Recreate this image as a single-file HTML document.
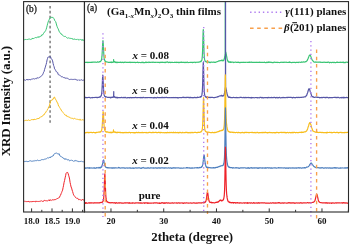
<!DOCTYPE html>
<html><head><meta charset="utf-8"><style>
html,body{margin:0;padding:0;background:#fff;}
body{width:350px;height:245px;overflow:hidden;position:relative;}
svg{position:absolute;left:0;top:0;will-change:transform;}
text{font-family:"Liberation Serif",serif;fill:#111;}
.tk{font-size:9px;font-weight:bold;}
.b{font-weight:bold;}
</style></head><body>
<svg width="350" height="245" viewBox="0 0 350 245">
<defs><clipPath id="cr"><rect x="84.6" y="1.6" width="263.8" height="210.2"/></clipPath>
<clipPath id="cl"><rect x="23.6" y="1.6" width="60.8" height="210.2"/></clipPath></defs>
<g clip-path="url(#cr)">
<path d="M84.60,62.38 85.10,62.43 85.60,62.33 86.10,62.23 86.60,62.30 87.10,62.21 87.60,62.38 88.10,62.58 88.60,62.29 89.10,62.27 89.60,62.44 90.10,62.42 90.60,62.37 91.10,62.20 91.60,62.34 92.10,62.45 92.60,62.12 93.10,62.26 93.60,62.02 94.10,62.11 94.60,62.01 95.10,62.26 95.60,62.08 96.10,62.30 96.60,62.26 97.10,62.18 97.60,61.77 98.10,62.04 98.60,62.06 99.10,61.99 99.58,61.60 99.60,61.77 99.75,61.63 99.92,61.60 100.09,61.82 100.10,61.51 100.26,61.55 100.43,61.59 100.59,61.22 100.60,61.29 100.76,61.17 100.93,60.96 101.10,60.49 101.10,60.70 101.27,60.54 101.44,59.56 101.60,59.23 101.61,59.08 101.78,57.85 101.94,56.69 102.10,54.53 102.11,54.02 102.28,51.41 102.45,48.12 102.60,44.85 102.62,44.58 102.79,41.56 102.96,40.50 103.10,41.48 103.13,41.46 103.30,44.53 103.46,47.95 103.60,50.82 103.63,51.21 103.80,54.12 103.97,56.35 104.10,57.79 104.14,58.14 104.31,58.84 104.48,59.68 104.60,60.31 104.64,60.01 104.81,60.61 104.98,60.94 105.10,61.30 105.15,61.27 105.32,61.26 105.49,61.39 105.60,61.48 105.66,61.80 105.83,61.58 106.00,61.67 106.10,61.82 106.16,61.77 106.33,61.81 106.60,61.74 107.10,62.02 107.60,62.03 108.10,62.34 108.60,62.30 109.10,62.22 109.60,62.35 110.10,62.21 110.39,62.44 110.58,62.27 110.60,62.37 110.77,62.07 110.95,62.34 111.10,62.01 111.14,61.96 111.33,62.24 111.52,62.14 111.60,62.31 111.70,62.65 111.89,62.15 112.08,62.18 112.10,62.32 112.27,62.36 112.45,62.24 112.60,62.22 112.64,62.36 112.83,62.31 113.02,62.01 113.10,62.14 113.20,62.12 113.25,61.93 113.39,62.08 113.58,61.81 113.60,59.60 113.77,61.88 113.95,61.79 113.95,61.68 114.10,61.73 114.14,61.43 114.33,61.60 114.52,61.92 114.60,61.56 114.70,62.09 114.89,61.77 115.08,62.26 115.10,62.01 115.27,62.32 115.45,62.27 115.60,62.03 115.64,62.48 115.83,62.53 116.02,62.30 116.10,62.28 116.20,62.30 116.39,62.18 116.58,62.51 116.60,62.25 116.77,62.33 116.95,62.22 117.10,62.25 117.14,62.14 117.33,62.55 117.52,62.33 117.60,62.51 117.70,62.36 117.89,62.25 118.10,62.31 118.60,62.27 119.10,62.37 119.60,62.31 120.10,62.32 120.60,62.15 121.10,62.25 121.60,62.64 122.10,62.27 122.60,62.21 123.10,62.43 123.60,62.61 124.10,62.15 124.60,62.35 125.10,62.28 125.60,62.10 126.10,62.50 126.60,62.38 127.10,62.40 127.60,62.27 128.10,62.46 128.60,62.30 129.10,62.36 129.60,62.21 130.10,62.19 130.60,62.60 131.10,62.31 131.60,62.44 132.10,62.38 132.60,62.32 133.10,62.31 133.60,62.49 134.10,62.34 134.60,62.37 135.10,62.39 135.60,62.58 136.10,62.50 136.60,62.45 137.10,62.30 137.60,62.17 138.10,62.54 138.60,62.55 139.10,62.37 139.60,62.48 140.10,62.52 140.60,62.53 141.10,62.54 141.60,62.32 142.10,62.64 142.60,62.19 143.10,62.53 143.60,62.47 144.10,62.53 144.60,62.69 145.10,62.63 145.60,62.21 146.10,62.12 146.60,62.52 147.10,62.23 147.60,62.39 148.10,62.53 148.60,62.13 149.10,62.06 149.60,62.44 150.10,62.40 150.60,62.35 151.10,62.40 151.60,62.26 152.10,62.15 152.60,62.37 153.10,62.24 153.60,62.13 154.10,62.47 154.60,62.38 155.10,62.46 155.60,62.24 156.10,62.29 156.60,62.23 157.10,62.25 157.60,62.42 158.10,62.27 158.60,62.45 159.10,62.45 159.60,62.72 160.10,62.17 160.60,62.54 161.10,62.38 161.60,62.39 162.10,62.16 162.60,62.32 163.10,62.51 163.60,62.38 164.10,62.41 164.60,62.35 165.10,62.58 165.60,62.39 166.10,62.04 166.60,62.28 167.10,62.08 167.60,61.87 168.10,62.31 168.60,62.61 169.10,62.40 169.60,62.20 170.10,62.24 170.60,62.57 171.10,62.42 171.60,62.40 172.10,62.38 172.60,62.40 173.10,62.52 173.60,62.48 174.10,62.42 174.60,62.22 175.10,62.47 175.60,62.28 176.10,62.56 176.60,62.19 177.10,62.37 177.60,62.39 178.10,62.18 178.60,62.66 179.10,62.62 179.60,62.31 180.10,62.51 180.60,62.45 181.10,61.97 181.60,62.42 182.10,62.37 182.60,62.40 183.10,62.21 183.60,62.34 184.10,62.35 184.60,62.57 185.10,62.43 185.60,62.38 186.10,62.62 186.60,62.29 187.10,62.31 187.60,62.08 188.10,62.62 188.60,62.52 189.10,62.51 189.60,62.47 190.10,62.38 190.60,62.39 191.10,62.32 191.60,62.32 192.10,62.36 192.60,62.59 193.10,62.43 193.60,62.33 194.10,62.24 194.60,62.22 195.10,62.57 195.60,62.38 196.10,62.30 196.60,62.22 197.10,62.07 197.60,62.21 198.10,62.33 198.60,62.08 199.10,62.05 199.60,61.96 200.10,61.88 200.54,61.44 200.60,61.62 200.68,61.48 200.81,61.68 200.95,61.32 201.09,61.42 201.10,61.56 201.22,61.13 201.36,60.92 201.50,60.84 201.60,60.63 201.64,60.39 201.78,60.27 201.91,60.02 202.05,58.91 202.10,58.56 202.19,57.67 202.32,56.20 202.46,53.49 202.60,50.10 202.74,46.11 202.88,40.57 203.01,35.57 203.10,32.67 203.15,31.13 203.29,29.48 203.43,31.40 203.56,35.33 203.60,36.70 203.70,40.50 203.84,45.88 203.97,50.51 204.10,53.57 204.11,53.52 204.25,56.01 204.39,57.74 204.53,59.00 204.60,59.36 204.66,59.72 204.80,60.24 204.94,60.49 205.07,60.80 205.10,60.88 205.21,61.00 205.35,61.26 205.49,61.62 205.60,61.51 205.62,61.44 205.76,61.26 205.90,61.68 206.04,61.38 206.10,61.49 206.60,62.04 207.10,62.13 207.60,62.07 208.10,61.88 208.60,62.13 209.10,62.11 209.60,62.35 210.10,62.62 210.60,62.31 211.10,62.16 211.60,62.11 212.10,62.29 212.60,62.27 213.10,62.11 213.60,62.31 214.10,62.09 214.60,62.42 215.10,62.37 215.60,62.31 216.10,61.97 216.60,62.01 217.10,61.76 217.60,61.54 218.10,61.35 218.60,60.98 219.10,60.75 219.60,60.92 220.10,60.60 220.60,60.56 221.10,60.62 221.44,60.17 221.60,60.33 221.64,60.48 221.84,60.53 221.84,60.40 222.04,60.64 222.07,60.51 222.10,60.28 222.24,60.34 222.29,60.62 222.44,60.58 222.52,60.20 222.60,60.73 222.64,60.61 222.74,60.73 222.84,60.45 222.97,60.46 223.04,60.32 223.10,60.90 223.19,60.45 223.24,60.72 223.42,60.31 223.44,60.43 223.60,60.04 223.64,60.21 223.84,60.21 223.87,59.82 224.04,59.87 224.09,59.64 224.10,59.39 224.24,59.07 224.32,58.81 224.44,58.35 224.44,58.27 224.54,57.72 224.60,57.48 224.64,57.11 224.77,56.25 224.84,55.90 224.99,54.89 225.04,54.12 225.10,53.91 225.22,52.98 225.24,52.76 225.24,-5.00 225.44,51.93 225.60,52.10 225.64,51.78 225.67,52.00 225.84,52.39 225.89,52.50 226.04,53.36 226.04,53.24 226.10,53.63 226.12,53.60 226.24,54.04 226.34,54.71 226.44,55.26 226.57,56.08 226.60,55.96 226.64,56.33 226.79,56.88 226.84,57.52 227.02,58.13 227.04,58.14 227.10,58.69 227.24,59.48 227.44,59.79 227.47,59.94 227.60,60.39 227.64,60.43 227.69,60.80 227.84,60.92 227.92,61.07 228.04,61.46 228.10,61.32 228.14,61.56 228.24,61.43 228.37,61.50 228.44,61.45 228.59,62.12 228.60,61.78 228.64,61.89 228.82,61.92 228.84,61.95 229.04,62.00 229.10,62.31 229.24,61.87 229.27,61.79 229.44,61.91 229.49,61.87 229.60,62.22 229.72,62.25 229.94,61.99 230.10,61.94 230.17,62.11 230.39,62.41 230.60,61.75 230.62,62.29 230.84,62.05 231.10,62.40 231.60,62.09 232.10,62.24 232.60,62.06 233.10,62.15 233.60,62.54 234.10,62.46 234.60,62.27 235.10,62.20 235.60,62.04 236.10,62.29 236.60,62.35 237.10,62.34 237.60,62.35 238.10,62.18 238.60,62.35 239.10,62.36 239.60,62.58 240.10,62.67 240.60,62.35 241.10,62.25 241.60,62.36 242.10,62.28 242.60,62.26 243.10,62.37 243.60,62.21 244.10,62.48 244.60,62.36 245.10,62.42 245.60,62.35 246.10,62.27 246.60,62.23 247.10,62.35 247.60,62.30 248.10,62.42 248.60,62.38 249.10,62.17 249.60,62.40 250.10,62.17 250.60,62.29 251.10,62.34 251.60,62.05 252.10,62.40 252.60,62.41 253.10,62.36 253.60,62.32 254.10,62.33 254.60,62.23 255.10,62.34 255.60,62.30 256.10,62.40 256.60,62.20 257.10,62.43 257.60,62.41 258.10,62.37 258.60,62.32 259.10,62.48 259.60,62.12 260.10,62.46 260.60,62.43 261.10,62.43 261.60,62.45 262.10,62.28 262.60,62.35 263.10,62.49 263.60,62.46 264.10,62.42 264.60,62.15 265.10,62.47 265.60,62.58 266.10,62.55 266.60,62.43 267.10,62.14 267.60,62.54 268.10,62.36 268.60,61.98 269.10,62.45 269.60,62.15 270.10,62.18 270.60,62.29 271.10,62.59 271.60,62.33 272.10,62.43 272.60,62.67 273.10,62.64 273.60,62.37 274.10,62.35 274.60,62.18 275.10,62.27 275.60,62.45 276.10,62.45 276.60,62.40 277.10,62.54 277.60,62.26 278.10,62.37 278.60,62.50 279.10,62.48 279.60,62.55 280.10,62.45 280.60,62.33 281.10,62.44 281.60,62.22 282.10,62.12 282.60,62.47 283.10,62.37 283.60,62.43 284.10,62.11 284.60,62.32 285.10,62.28 285.60,62.24 286.10,62.01 286.60,62.32 287.10,62.51 287.60,62.43 288.10,62.27 288.60,62.37 289.10,62.49 289.60,61.92 290.10,62.34 290.60,62.45 291.10,62.47 291.60,62.63 292.10,62.54 292.60,62.40 293.10,62.40 293.60,62.47 294.10,62.26 294.60,62.33 295.10,62.48 295.60,62.64 296.10,62.30 296.60,62.31 297.10,62.35 297.60,62.52 298.10,62.30 298.60,62.53 299.10,62.13 299.60,62.24 300.10,62.23 300.60,62.37 301.10,62.39 301.60,61.96 302.10,62.03 302.60,62.20 303.10,62.01 303.60,61.83 304.10,62.18 304.60,62.02 305.10,61.92 305.60,61.62 306.10,61.63 306.60,61.07 307.10,60.73 307.60,59.59 308.10,58.49 308.60,57.32 309.10,55.82 309.60,55.13 310.10,55.08 310.60,55.83 311.10,57.35 311.60,58.61 312.10,59.91 312.60,60.47 313.10,61.05 313.60,61.67 314.10,62.06 314.60,62.16 315.10,61.95 315.60,62.05 316.10,62.32 316.60,62.10 317.10,62.00 317.60,62.20 318.10,62.28 318.60,62.09 319.10,61.98 319.60,62.03 320.10,62.38 320.60,62.16 321.10,62.27 321.60,62.34 322.10,62.41 322.60,62.26 323.10,62.40 323.60,62.18 324.10,62.27 324.60,62.17 325.10,62.52 325.60,62.34 326.10,62.23 326.60,62.29 327.10,62.32 327.60,62.47 328.10,62.10 328.60,62.19 329.10,62.30 329.60,62.77 330.10,62.52 330.60,62.35 331.10,62.48 331.60,62.70 332.10,62.33 332.60,62.31 333.10,62.57 333.60,62.45 334.10,62.48 334.60,62.30 335.10,62.69 335.60,62.65 336.10,62.47 336.60,62.49 337.10,62.06 337.60,62.48 338.10,62.35 338.60,62.45 339.10,62.49 339.60,62.33 340.10,62.11 340.60,62.44 341.10,62.27 341.60,62.33 342.10,62.29 342.60,62.33 343.10,62.02 343.60,62.58 344.10,62.43 344.60,62.57 345.10,62.71 345.60,62.39 346.10,62.10 346.60,62.25 347.10,62.20 347.60,62.31 348.10,62.40" fill="none" stroke="#3ac474" stroke-width="1.2" stroke-linejoin="round"/>
<path d="M84.60,97.26 85.10,97.64 85.60,97.34 86.10,97.63 86.60,97.56 87.10,97.53 87.60,97.56 88.10,97.49 88.60,97.47 89.10,97.30 89.60,97.56 90.10,97.86 90.60,97.88 91.10,97.77 91.60,97.67 92.10,97.44 92.60,97.77 93.10,97.53 93.60,97.52 94.10,97.48 94.60,97.53 95.10,97.43 95.60,97.48 96.10,97.30 96.60,97.39 97.10,97.79 97.60,97.38 98.10,97.31 98.60,97.37 99.10,97.31 99.60,96.88 99.80,96.96 99.95,97.08 100.10,96.90 100.10,96.88 100.25,97.02 100.40,96.56 100.55,96.56 100.60,96.42 100.70,96.65 100.85,95.92 101.00,95.90 101.10,95.74 101.15,95.83 101.30,95.43 101.45,95.02 101.60,93.77 101.60,94.14 101.75,92.86 101.90,91.22 102.05,89.25 102.10,88.13 102.20,86.01 102.35,82.88 102.50,79.08 102.60,77.04 102.65,76.36 102.80,75.15 102.95,76.57 103.10,79.29 103.10,79.10 103.25,82.83 103.40,86.20 103.55,88.97 103.60,90.05 103.70,91.23 103.85,92.60 104.00,94.14 104.10,94.56 104.15,94.85 104.30,95.35 104.45,95.82 104.60,96.01 104.60,96.21 104.75,96.30 104.90,96.47 105.05,96.62 105.10,96.36 105.20,96.64 105.35,96.73 105.50,96.89 105.60,96.69 105.65,97.19 105.80,97.01 106.10,96.90 106.60,96.94 107.10,97.25 107.60,97.34 108.10,97.28 108.60,97.44 109.10,97.34 109.60,97.55 110.10,97.36 110.39,97.48 110.58,97.64 110.60,97.90 110.77,97.33 110.95,97.41 111.10,97.35 111.14,97.61 111.33,97.30 111.52,97.41 111.60,97.48 111.70,97.33 111.89,97.33 112.08,97.40 112.10,97.13 112.27,97.23 112.45,97.37 112.60,97.44 112.64,97.38 112.83,97.08 113.02,97.21 113.10,97.37 113.20,97.27 113.39,97.04 113.40,96.90 113.58,96.99 113.60,96.78 113.75,91.60 113.77,96.60 113.95,96.84 114.10,96.59 114.14,96.74 114.33,96.53 114.52,96.89 114.60,96.71 114.70,96.87 114.89,97.46 115.08,97.32 115.10,97.13 115.27,97.29 115.45,97.43 115.60,97.62 115.64,97.35 115.83,97.19 116.02,97.45 116.10,97.50 116.20,97.52 116.39,97.73 116.58,97.58 116.60,97.66 116.77,97.36 116.95,97.68 117.10,97.88 117.14,97.67 117.33,97.59 117.52,97.57 117.60,97.84 117.70,97.40 117.89,97.54 118.10,97.63 118.60,97.68 119.10,97.50 119.60,97.62 120.10,97.53 120.60,97.59 121.10,97.55 121.60,97.39 122.10,97.58 122.60,97.72 123.10,97.43 123.60,97.54 124.10,97.69 124.60,97.41 125.10,97.61 125.60,97.42 126.10,97.77 126.60,97.96 127.10,97.91 127.60,97.55 128.10,97.71 128.60,97.61 129.10,97.61 129.60,97.84 130.10,97.38 130.60,97.76 131.10,97.58 131.60,97.82 132.10,97.62 132.60,97.48 133.10,97.64 133.60,97.71 134.10,97.60 134.60,97.67 135.10,97.51 135.60,97.25 136.10,97.74 136.60,97.70 137.10,97.62 137.60,97.60 138.10,97.76 138.60,97.52 139.10,97.48 139.60,97.56 140.10,97.78 140.60,97.37 141.10,97.78 141.60,97.49 142.10,97.42 142.60,97.80 143.10,97.58 143.60,97.39 144.10,97.54 144.60,97.74 145.10,97.78 145.60,97.53 146.10,97.66 146.60,97.71 147.10,97.49 147.60,97.65 148.10,97.59 148.60,97.51 149.10,97.52 149.60,97.60 150.10,97.60 150.60,97.50 151.10,97.53 151.60,97.77 152.10,97.63 152.60,97.74 153.10,97.79 153.60,97.69 154.10,97.96 154.60,97.46 155.10,97.72 155.60,97.54 156.10,97.89 156.60,97.87 157.10,97.28 157.60,97.44 158.10,97.70 158.60,97.72 159.10,97.71 159.60,97.58 160.10,97.67 160.60,97.70 161.10,97.58 161.60,97.76 162.10,97.23 162.60,97.69 163.10,97.43 163.60,97.75 164.10,97.56 164.60,97.45 165.10,97.65 165.60,97.45 166.10,97.45 166.60,97.34 167.10,97.59 167.60,97.67 168.10,97.76 168.60,97.57 169.10,97.76 169.60,97.59 170.10,97.58 170.60,97.68 171.10,97.76 171.60,97.54 172.10,97.55 172.60,97.57 173.10,97.60 173.60,97.45 174.10,97.75 174.60,97.53 175.10,97.66 175.60,97.46 176.10,97.65 176.60,97.65 177.10,97.52 177.60,97.91 178.10,97.65 178.60,97.87 179.10,97.74 179.60,97.48 180.10,97.52 180.60,97.66 181.10,97.59 181.60,97.59 182.10,97.54 182.60,97.29 183.10,97.55 183.60,97.23 184.10,97.64 184.60,97.46 185.10,97.46 185.60,97.54 186.10,97.62 186.60,97.35 187.10,97.30 187.60,97.40 188.10,97.25 188.60,97.42 189.10,97.82 189.60,97.40 190.10,97.67 190.60,97.34 191.10,97.61 191.60,97.50 192.10,97.54 192.60,97.64 193.10,97.82 193.60,97.57 194.10,97.55 194.60,97.37 195.10,97.61 195.60,97.46 196.10,97.62 196.60,97.47 197.10,97.73 197.60,97.11 198.10,97.35 198.60,97.50 199.10,97.24 199.60,97.08 200.10,97.04 200.54,96.70 200.60,96.91 200.68,97.24 200.81,96.95 200.95,96.50 201.09,96.42 201.10,96.49 201.22,96.59 201.36,96.14 201.50,95.95 201.60,96.03 201.64,95.95 201.78,95.39 201.91,94.77 202.05,93.93 202.10,93.70 202.19,92.64 202.32,91.31 202.46,88.44 202.60,84.91 202.74,80.41 202.88,74.73 203.01,68.71 203.10,65.90 203.15,64.55 203.29,62.47 203.43,64.21 203.56,68.84 203.60,70.11 203.70,74.77 203.84,79.68 203.97,84.66 204.10,88.19 204.11,88.48 204.25,91.21 204.39,93.03 204.53,94.14 204.60,94.82 204.66,94.60 204.80,95.45 204.94,95.69 205.07,96.08 205.10,96.14 205.21,96.12 205.35,96.32 205.49,96.68 205.60,96.71 205.62,96.56 205.76,97.09 205.90,97.21 206.04,96.68 206.10,96.99 206.60,97.52 207.10,97.35 207.60,97.34 208.10,97.32 208.60,97.31 209.10,97.39 209.60,97.36 210.10,97.58 210.60,97.42 211.10,97.42 211.60,97.30 212.10,97.49 212.60,97.36 213.10,97.47 213.60,97.66 214.10,97.54 214.60,97.53 215.10,97.47 215.60,97.36 216.10,97.24 216.60,97.10 217.10,97.13 217.60,96.67 218.10,96.87 218.60,96.46 219.10,96.14 219.60,96.00 220.10,95.82 220.60,95.85 221.10,95.65 221.44,95.93 221.60,95.63 221.64,95.39 221.84,95.64 221.84,95.44 222.04,95.76 222.07,95.94 222.10,95.87 222.24,95.56 222.29,95.66 222.44,96.07 222.52,95.84 222.60,95.79 222.64,95.96 222.74,96.19 222.84,96.00 222.97,95.81 223.04,95.83 223.10,95.87 223.19,95.65 223.24,95.57 223.42,95.68 223.44,95.51 223.60,95.55 223.64,95.55 223.84,95.68 223.87,95.13 224.04,94.93 224.09,94.80 224.10,94.88 224.24,94.56 224.32,94.05 224.44,93.47 224.54,92.83 224.60,92.62 224.64,92.60 224.77,91.69 224.84,90.98 224.89,90.70 224.99,89.99 225.04,89.67 225.10,89.05 225.22,88.27 225.24,87.85 225.44,87.05 225.54,-5.00 225.60,86.73 225.64,87.07 225.67,87.20 225.84,87.59 225.89,87.71 226.04,88.47 226.10,88.74 226.12,88.81 226.19,88.89 226.24,89.41 226.34,89.80 226.44,90.37 226.57,91.17 226.60,91.42 226.64,91.69 226.79,92.28 226.84,92.77 227.02,93.70 227.04,93.81 227.10,94.12 227.24,94.49 227.44,95.21 227.47,95.45 227.60,95.49 227.64,95.85 227.69,95.86 227.84,96.19 227.92,96.11 228.04,96.43 228.10,96.64 228.14,96.83 228.24,96.95 228.37,96.88 228.44,96.91 228.59,96.90 228.60,97.10 228.64,97.01 228.82,97.22 228.84,97.41 229.04,97.18 229.10,96.96 229.24,97.10 229.27,97.01 229.44,97.08 229.49,97.49 229.60,97.34 229.72,97.07 229.94,97.45 230.10,97.56 230.17,97.31 230.39,97.28 230.60,97.35 230.62,97.45 230.84,97.53 231.10,97.63 231.60,97.66 232.10,97.67 232.60,97.72 233.10,97.62 233.60,97.27 234.10,97.51 234.60,97.59 235.10,97.48 235.60,97.69 236.10,97.49 236.60,97.41 237.10,97.79 237.60,97.67 238.10,97.60 238.60,97.71 239.10,97.74 239.60,97.62 240.10,97.18 240.60,97.46 241.10,97.50 241.60,97.42 242.10,97.61 242.60,97.77 243.10,97.50 243.60,97.40 244.10,97.90 244.60,97.51 245.10,97.38 245.60,97.62 246.10,97.65 246.60,97.47 247.10,97.71 247.60,97.51 248.10,97.44 248.60,97.61 249.10,97.71 249.60,97.48 250.10,97.64 250.60,97.57 251.10,98.04 251.60,97.47 252.10,97.81 252.60,97.58 253.10,97.57 253.60,97.70 254.10,97.73 254.60,97.79 255.10,97.64 255.60,97.49 256.10,97.50 256.60,97.67 257.10,97.68 257.60,97.81 258.10,97.66 258.60,97.76 259.10,97.83 259.60,97.61 260.10,97.35 260.60,97.40 261.10,97.36 261.60,97.84 262.10,97.45 262.60,97.79 263.10,97.68 263.60,97.86 264.10,97.75 264.60,97.57 265.10,97.56 265.60,97.60 266.10,97.62 266.60,97.50 267.10,97.58 267.60,97.85 268.10,97.32 268.60,97.63 269.10,97.44 269.60,97.62 270.10,97.72 270.60,97.58 271.10,97.71 271.60,97.33 272.10,97.76 272.60,97.49 273.10,97.69 273.60,97.61 274.10,97.17 274.60,97.46 275.10,97.62 275.60,97.83 276.10,97.63 276.60,97.63 277.10,97.36 277.60,97.81 278.10,97.87 278.60,97.59 279.10,97.55 279.60,97.32 280.10,97.72 280.60,98.01 281.10,97.69 281.60,97.78 282.10,97.67 282.60,97.42 283.10,97.79 283.60,97.38 284.10,97.54 284.60,97.62 285.10,97.72 285.60,97.64 286.10,97.63 286.60,97.45 287.10,97.36 287.60,97.58 288.10,97.45 288.60,97.36 289.10,97.36 289.60,97.48 290.10,97.26 290.60,97.34 291.10,97.29 291.60,97.58 292.10,97.62 292.60,97.87 293.10,97.30 293.60,97.43 294.10,97.68 294.60,97.50 295.10,97.48 295.60,97.80 296.10,97.46 296.60,97.33 297.10,97.29 297.60,97.55 298.10,97.53 298.60,97.26 299.10,97.30 299.60,97.53 300.10,97.52 300.60,97.31 301.10,97.49 301.60,97.45 302.10,97.04 302.60,97.24 303.10,97.30 303.60,97.08 304.10,96.74 304.60,96.92 305.10,96.91 305.60,96.75 306.10,95.68 306.60,95.70 307.10,93.96 307.60,92.75 308.10,90.99 308.60,89.35 309.10,88.63 309.60,89.26 310.10,91.25 310.60,92.82 311.10,93.99 311.60,95.90 312.10,96.26 312.60,96.86 313.10,96.68 313.60,97.23 314.10,97.36 314.60,97.43 315.10,97.24 315.60,97.10 316.10,97.31 316.60,97.01 317.10,97.12 317.60,97.43 318.10,97.28 318.60,97.43 319.10,97.45 319.60,97.79 320.10,97.70 320.60,97.49 321.10,97.70 321.60,97.39 322.10,97.47 322.60,97.67 323.10,97.33 323.60,97.49 324.10,97.33 324.60,97.56 325.10,97.81 325.60,97.43 326.10,97.59 326.60,97.41 327.10,97.37 327.60,97.36 328.10,97.79 328.60,97.94 329.10,97.64 329.60,97.45 330.10,97.68 330.60,97.52 331.10,97.70 331.60,97.62 332.10,97.62 332.60,97.67 333.10,97.48 333.60,97.51 334.10,97.30 334.60,97.51 335.10,97.35 335.60,97.56 336.10,97.43 336.60,97.60 337.10,97.65 337.60,97.36 338.10,97.45 338.60,97.43 339.10,97.70 339.60,97.86 340.10,97.72 340.60,97.53 341.10,97.82 341.60,97.34 342.10,97.83 342.60,97.48 343.10,97.14 343.60,98.01 344.10,97.84 344.60,97.42 345.10,97.62 345.60,97.55 346.10,97.61 346.60,97.35 347.10,97.48 347.60,97.66 348.10,97.63" fill="none" stroke="#5656a6" stroke-width="1.2" stroke-linejoin="round"/>
<path d="M84.60,132.77 85.10,132.59 85.60,132.95 86.10,132.46 86.60,132.62 87.10,132.27 87.60,132.37 88.10,132.78 88.60,132.42 89.10,132.65 89.60,132.55 90.10,132.39 90.60,132.50 91.10,132.47 91.60,132.47 92.10,132.66 92.60,132.64 93.10,132.44 93.60,132.38 94.10,132.56 94.60,132.49 95.10,132.66 95.60,132.91 96.10,132.60 96.60,132.44 97.10,132.39 97.60,132.25 98.10,132.20 98.60,132.12 99.10,132.14 99.60,132.02 99.67,132.19 99.84,131.95 100.02,131.92 100.10,131.73 100.19,132.14 100.37,131.88 100.54,131.98 100.60,131.78 100.72,131.80 100.89,131.37 101.07,131.33 101.10,131.61 101.24,130.77 101.42,130.81 101.59,130.40 101.60,130.17 101.77,129.53 101.94,128.56 102.10,126.92 102.12,126.92 102.29,124.64 102.47,121.99 102.60,119.61 102.64,118.86 102.82,115.52 102.99,112.79 103.10,111.54 103.17,111.92 103.34,112.90 103.52,115.61 103.60,117.01 103.69,118.87 103.87,122.19 104.04,124.85 104.10,125.25 104.22,126.97 104.39,128.83 104.57,129.10 104.60,129.72 104.74,130.18 104.92,130.60 105.09,131.19 105.10,130.78 105.27,131.24 105.44,131.65 105.60,131.52 105.62,131.49 105.79,131.71 105.97,131.72 106.10,132.11 106.14,131.73 106.32,132.10 106.49,131.81 106.60,132.16 106.67,132.05 107.10,131.75 107.60,132.26 108.10,132.15 108.60,132.29 109.10,132.65 109.60,132.24 110.10,132.27 110.13,132.68 110.31,132.47 110.50,132.71 110.60,132.51 110.69,132.31 110.88,132.45 111.06,132.67 111.10,132.62 111.25,132.47 111.44,132.47 111.60,132.45 111.63,132.37 111.81,132.78 112.00,132.45 112.10,132.26 112.19,132.36 112.38,132.53 112.56,132.48 112.60,132.34 112.75,132.21 112.94,132.24 113.10,131.87 113.13,131.92 113.15,132.25 113.31,131.93 113.50,129.80 113.50,132.08 113.60,131.93 113.69,131.78 113.85,132.09 113.88,131.85 114.06,131.72 114.10,131.92 114.25,131.95 114.44,131.88 114.60,132.14 114.63,132.12 114.81,131.93 115.00,132.31 115.10,132.33 115.19,132.33 115.38,132.18 115.56,132.42 115.60,132.47 115.75,132.51 115.94,132.32 116.10,132.62 116.13,132.32 116.31,132.49 116.50,132.74 116.60,132.42 116.69,132.45 116.88,132.72 117.06,132.48 117.10,132.49 117.25,132.58 117.44,132.72 117.60,132.19 117.63,132.41 118.10,132.39 118.60,132.38 119.10,132.42 119.60,132.43 120.10,132.62 120.60,132.42 121.10,132.59 121.60,132.64 122.10,132.46 122.60,132.60 123.10,132.85 123.60,132.63 124.10,132.48 124.60,132.57 125.10,132.43 125.60,132.63 126.10,132.72 126.60,132.45 127.10,132.55 127.60,132.77 128.10,132.50 128.60,132.62 129.10,132.42 129.60,132.45 130.10,132.50 130.60,132.94 131.10,132.52 131.60,132.50 132.10,132.50 132.60,132.56 133.10,132.69 133.60,132.62 134.10,132.92 134.60,132.62 135.10,132.82 135.60,132.63 136.10,132.69 136.60,132.36 137.10,132.57 137.60,132.58 138.10,132.55 138.60,132.25 139.10,132.73 139.60,132.53 140.10,132.52 140.60,132.55 141.10,132.56 141.60,132.66 142.10,132.39 142.60,132.44 143.10,132.64 143.60,132.62 144.10,132.53 144.60,132.50 145.10,132.46 145.60,132.58 146.10,132.78 146.60,132.42 147.10,132.84 147.60,132.73 148.10,132.52 148.60,132.72 149.10,132.36 149.60,132.32 150.10,132.39 150.60,132.53 151.10,132.54 151.60,132.51 152.10,132.61 152.60,132.25 153.10,132.67 153.60,132.37 154.10,132.49 154.60,132.53 155.10,132.41 155.60,132.37 156.10,132.43 156.60,132.59 157.10,132.69 157.60,132.68 158.10,132.43 158.60,132.47 159.10,132.44 159.60,132.66 160.10,132.27 160.60,132.79 161.10,132.51 161.60,132.47 162.10,132.65 162.60,132.76 163.10,132.65 163.60,132.76 164.10,132.61 164.60,132.79 165.10,132.79 165.60,132.57 166.10,132.82 166.60,132.62 167.10,132.60 167.60,132.44 168.10,132.54 168.60,132.71 169.10,132.38 169.60,132.69 170.10,132.65 170.60,132.63 171.10,132.24 171.60,132.57 172.10,132.69 172.60,132.47 173.10,132.60 173.60,132.21 174.10,132.70 174.60,132.48 175.10,132.73 175.60,132.29 176.10,132.70 176.60,132.55 177.10,132.72 177.60,132.44 178.10,132.49 178.60,132.94 179.10,132.45 179.60,132.47 180.10,132.54 180.60,132.42 181.10,132.77 181.60,132.86 182.10,132.47 182.60,132.30 183.10,132.77 183.60,132.76 184.10,132.71 184.60,132.76 185.10,132.44 185.60,132.55 186.10,132.35 186.60,132.35 187.10,132.73 187.60,132.46 188.10,132.93 188.60,132.58 189.10,132.46 189.60,132.69 190.10,132.85 190.60,132.64 191.10,132.36 191.60,132.61 192.10,132.77 192.60,132.47 193.10,132.42 193.60,132.70 194.10,132.55 194.60,132.35 195.10,132.45 195.60,132.38 196.10,132.54 196.60,132.49 197.10,132.64 197.60,132.55 198.10,132.16 198.60,132.44 199.10,132.46 199.60,132.32 200.10,132.31 200.60,131.91 200.80,131.76 200.94,131.99 201.08,131.59 201.10,131.40 201.21,131.83 201.35,131.44 201.49,131.37 201.60,131.07 201.63,131.04 201.76,130.87 201.90,130.74 202.04,130.50 202.10,129.87 202.18,130.06 202.31,128.98 202.45,127.82 202.59,126.28 202.60,125.98 202.73,123.27 202.86,120.11 203.00,114.95 203.10,111.18 203.14,109.55 203.28,104.10 203.41,99.27 203.55,97.74 203.60,97.69 203.69,99.53 203.83,103.73 203.96,109.48 204.10,115.33 204.10,115.12 204.24,119.85 204.38,123.86 204.51,126.23 204.60,127.26 204.65,128.10 204.79,128.98 204.93,130.11 205.06,130.63 205.10,130.45 205.20,130.69 205.34,131.08 205.48,131.25 205.60,131.24 205.61,131.50 205.75,131.22 205.89,131.58 206.03,131.68 206.10,131.75 206.16,131.88 206.30,131.70 206.60,132.11 207.10,132.13 207.60,132.15 208.10,132.09 208.60,132.17 209.10,132.45 209.60,132.26 210.10,132.44 210.60,132.62 211.10,132.62 211.60,132.71 212.10,132.42 212.60,132.29 213.10,132.63 213.60,132.50 214.10,132.61 214.60,132.41 215.10,132.55 215.60,132.44 216.10,132.33 216.60,132.18 217.10,132.03 217.60,131.83 218.10,131.64 218.60,131.56 219.10,131.11 219.60,131.28 220.10,130.81 220.60,130.83 221.10,130.54 221.60,130.41 221.84,130.72 222.07,130.29 222.10,130.13 222.29,130.15 222.52,130.12 222.60,130.47 222.74,130.07 222.97,130.01 223.09,129.56 223.10,129.77 223.19,129.71 223.21,129.87 223.32,129.30 223.42,129.32 223.43,129.25 223.54,128.78 223.60,128.80 223.64,128.64 223.66,128.27 223.77,128.36 223.87,127.94 223.88,127.72 223.99,126.98 224.09,126.76 224.10,126.51 224.10,126.59 224.22,125.62 224.32,124.11 224.33,124.14 224.44,122.01 224.54,119.69 224.56,119.32 224.60,117.95 224.67,115.68 224.77,111.03 224.78,110.30 224.89,103.44 224.99,96.24 225.00,95.02 225.10,87.35 225.12,85.98 225.22,78.87 225.23,78.21 225.34,74.84 225.44,77.54 225.46,78.06 225.57,85.36 225.60,87.76 225.67,93.38 225.68,94.08 225.79,102.07 225.89,107.94 225.91,108.61 226.02,113.76 226.10,116.29 226.12,117.12 226.13,117.01 226.24,119.90 226.34,121.34 226.35,121.99 226.47,123.11 226.57,124.18 226.58,124.46 226.60,124.70 226.69,125.11 226.79,125.98 226.81,125.91 226.92,126.91 227.02,127.46 227.03,127.50 227.10,127.82 227.14,128.09 227.24,128.51 227.25,128.77 227.37,129.41 227.47,129.23 227.48,129.57 227.59,129.89 227.60,130.05 227.69,130.08 227.92,130.73 228.10,130.89 228.14,131.23 228.37,131.40 228.59,131.55 228.60,131.64 228.82,131.68 229.04,131.58 229.10,131.95 229.27,131.97 229.49,131.97 229.60,132.18 229.72,132.25 229.94,131.93 230.10,132.02 230.17,132.40 230.39,132.42 230.60,132.11 230.62,132.04 230.84,132.15 231.10,132.21 231.60,132.08 232.10,132.38 232.60,132.20 233.10,132.23 233.60,132.59 234.10,132.35 234.60,132.46 235.10,132.59 235.60,132.63 236.10,132.45 236.60,132.52 237.10,132.39 237.60,132.80 238.10,132.63 238.60,132.36 239.10,132.54 239.60,132.66 240.10,132.62 240.60,132.84 241.10,132.77 241.60,132.47 242.10,132.54 242.60,132.35 243.10,132.60 243.60,132.59 244.10,133.00 244.60,132.58 245.10,132.23 245.60,132.46 246.10,132.59 246.60,132.37 247.10,132.43 247.60,132.51 248.10,132.63 248.60,132.55 249.10,132.43 249.60,132.70 250.10,132.49 250.60,132.50 251.10,132.36 251.60,132.45 252.10,132.68 252.60,132.32 253.10,132.57 253.60,132.69 254.10,132.52 254.60,132.62 255.10,132.40 255.60,132.79 256.10,132.76 256.60,132.62 257.10,132.30 257.60,132.41 258.10,132.74 258.60,132.86 259.10,132.63 259.60,132.78 260.10,132.48 260.60,132.55 261.10,132.58 261.60,132.65 262.10,132.34 262.60,132.73 263.10,132.79 263.60,132.40 264.10,132.37 264.60,132.64 265.10,132.48 265.60,132.20 266.10,132.71 266.60,132.61 267.10,132.51 267.60,132.92 268.10,132.60 268.60,132.46 269.10,132.60 269.60,132.42 270.10,132.46 270.60,132.64 271.10,132.49 271.60,132.51 272.10,132.85 272.60,132.72 273.10,132.71 273.60,132.66 274.10,132.66 274.60,132.81 275.10,132.58 275.60,132.88 276.10,132.43 276.60,132.54 277.10,132.36 277.60,132.52 278.10,132.66 278.60,132.81 279.10,132.47 279.60,132.58 280.10,132.52 280.60,132.45 281.10,132.38 281.60,132.58 282.10,132.29 282.60,132.59 283.10,132.57 283.60,132.46 284.10,132.41 284.60,132.34 285.10,132.86 285.60,132.35 286.10,132.81 286.60,132.66 287.10,132.50 287.60,132.37 288.10,132.72 288.60,132.83 289.10,132.40 289.60,132.50 290.10,132.72 290.60,132.60 291.10,132.86 291.60,132.45 292.10,132.62 292.60,132.33 293.10,132.86 293.60,132.41 294.10,132.17 294.60,132.49 295.10,132.49 295.60,132.81 296.10,132.44 296.60,132.49 297.10,132.57 297.60,132.72 298.10,132.45 298.60,132.61 299.10,132.52 299.60,132.37 300.10,132.41 300.60,132.38 301.10,132.21 301.60,132.52 302.10,132.07 302.60,132.44 303.10,132.35 303.60,132.12 304.10,131.94 304.60,131.92 305.10,131.89 305.60,131.72 306.10,131.32 306.60,130.92 307.10,129.90 307.60,128.92 308.10,127.16 308.60,125.78 309.10,123.94 309.60,122.69 310.10,122.96 310.60,124.07 311.10,125.26 311.60,127.47 312.10,128.69 312.60,130.19 313.10,131.18 313.60,131.20 314.10,131.62 314.60,131.78 315.10,132.01 315.60,132.16 316.10,132.34 316.60,132.04 317.10,132.50 317.60,132.14 318.10,132.37 318.60,132.54 319.10,132.49 319.60,132.25 320.10,132.31 320.60,132.36 321.10,132.44 321.60,132.64 322.10,132.27 322.60,132.56 323.10,132.59 323.60,132.59 324.10,132.58 324.60,132.75 325.10,132.59 325.60,132.66 326.10,132.62 326.60,132.82 327.10,132.23 327.60,132.74 328.10,132.50 328.60,132.50 329.10,132.39 329.60,132.25 330.10,132.49 330.60,132.44 331.10,132.64 331.60,132.32 332.10,132.79 332.60,132.60 333.10,132.52 333.60,132.45 334.10,132.44 334.60,132.39 335.10,132.48 335.60,132.57 336.10,132.54 336.60,132.35 337.10,132.53 337.60,132.43 338.10,132.60 338.60,132.87 339.10,132.68 339.60,132.53 340.10,132.32 340.60,132.35 341.10,132.31 341.60,132.70 342.10,132.46 342.60,132.59 343.10,132.48 343.60,132.60 344.10,132.81 344.60,132.47 345.10,132.53 345.60,132.45 346.10,132.72 346.60,132.42 347.10,132.40 347.60,132.36 348.10,132.36" fill="none" stroke="#f7bd1c" stroke-width="1.2" stroke-linejoin="round"/>
<path d="M84.60,168.06 85.10,168.40 85.60,167.82 86.10,168.14 86.60,168.02 87.10,167.80 87.60,167.94 88.10,167.94 88.60,167.87 89.10,168.28 89.60,167.67 90.10,168.03 90.60,168.02 91.10,167.87 91.60,167.99 92.10,168.10 92.60,167.98 93.10,168.02 93.60,168.06 94.10,167.62 94.60,168.18 95.10,168.30 95.60,168.08 96.10,168.07 96.60,167.67 97.10,167.86 97.60,167.73 98.10,167.74 98.48,167.97 98.60,167.68 98.73,167.77 98.98,167.47 99.10,167.74 99.23,167.76 99.48,167.60 99.60,167.58 99.73,167.98 99.98,167.44 100.10,167.44 100.23,167.45 100.48,167.70 100.60,167.81 100.73,167.47 100.98,167.18 101.10,167.15 101.23,167.28 101.48,166.69 101.60,166.90 101.73,166.66 101.98,165.86 102.10,165.61 102.23,165.16 102.48,164.25 102.60,163.28 102.73,162.95 102.98,161.41 103.10,160.81 103.23,160.43 103.48,159.96 103.60,159.93 103.73,160.16 103.98,161.31 104.10,162.29 104.23,163.07 104.48,164.10 104.60,164.70 104.73,164.96 104.98,165.83 105.10,166.19 105.23,166.26 105.48,166.68 105.60,166.99 105.73,167.06 105.98,167.12 106.10,167.42 106.23,167.38 106.48,167.68 106.60,167.55 106.73,167.53 106.98,167.66 107.10,167.63 107.23,167.57 107.48,167.65 107.60,167.85 107.73,167.85 107.98,167.98 108.10,167.51 108.23,167.73 108.48,167.75 108.60,167.85 109.10,167.78 109.60,167.79 110.10,168.02 110.60,167.93 111.10,167.73 111.60,168.14 112.10,168.09 112.60,167.85 113.10,168.08 113.60,167.83 114.10,168.14 114.60,167.92 115.10,167.83 115.60,167.91 116.10,167.85 116.60,168.00 117.10,168.00 117.60,167.98 118.10,167.89 118.60,167.39 119.10,167.99 119.60,167.68 120.10,168.02 120.60,168.16 121.10,168.03 121.60,167.92 122.10,167.96 122.60,167.96 123.10,167.90 123.60,167.89 124.10,167.84 124.60,168.18 125.10,167.98 125.60,168.14 126.10,167.95 126.60,168.00 127.10,167.96 127.60,168.06 128.10,168.12 128.60,168.03 129.10,167.88 129.60,167.87 130.10,168.26 130.60,167.95 131.10,167.94 131.60,168.23 132.10,168.17 132.60,168.08 133.10,167.93 133.60,168.37 134.10,168.05 134.60,168.08 135.10,167.96 135.60,167.77 136.10,167.78 136.60,168.06 137.10,168.06 137.60,167.95 138.10,167.81 138.60,167.76 139.10,167.94 139.60,167.76 140.10,168.14 140.60,168.18 141.10,168.45 141.60,168.13 142.10,167.90 142.60,167.85 143.10,167.44 143.60,167.90 144.10,167.96 144.60,168.15 145.10,168.09 145.60,168.09 146.10,168.03 146.60,168.10 147.10,168.22 147.60,167.82 148.10,167.92 148.60,167.77 149.10,168.25 149.60,168.20 150.10,168.11 150.60,167.80 151.10,168.02 151.60,167.96 152.10,168.01 152.60,167.96 153.10,168.08 153.60,167.93 154.10,168.13 154.60,168.03 155.10,167.95 155.60,167.97 156.10,167.92 156.60,168.12 157.10,167.95 157.60,168.04 158.10,167.93 158.60,167.75 159.10,168.14 159.60,167.82 160.10,168.10 160.60,168.06 161.10,167.73 161.60,167.84 162.10,167.91 162.60,167.86 163.10,167.80 163.60,168.11 164.10,167.95 164.60,168.05 165.10,167.92 165.60,168.04 166.10,167.87 166.60,167.99 167.10,168.08 167.60,168.00 168.10,167.92 168.60,167.82 169.10,168.02 169.60,168.04 170.10,167.95 170.60,167.87 171.10,168.08 171.60,168.39 172.10,167.94 172.60,168.04 173.10,168.05 173.60,167.58 174.10,168.01 174.60,167.87 175.10,168.21 175.60,167.95 176.10,167.86 176.60,167.95 177.10,168.01 177.60,167.90 178.10,167.98 178.60,167.77 179.10,167.95 179.60,168.11 180.10,168.30 180.60,168.09 181.10,168.02 181.60,168.17 182.10,168.14 182.60,168.25 183.10,168.15 183.60,167.96 184.10,168.02 184.60,168.00 185.10,168.02 185.60,168.01 186.10,167.85 186.60,167.63 187.10,167.86 187.60,167.64 188.10,167.98 188.60,167.96 189.10,167.69 189.60,168.07 190.10,168.10 190.60,167.97 191.10,168.22 191.60,168.25 192.10,167.75 192.60,168.11 193.10,168.01 193.60,168.00 194.10,168.07 194.60,167.80 195.10,167.81 195.60,167.77 196.10,167.77 196.60,167.86 197.10,167.62 197.60,167.67 198.10,167.90 198.60,167.77 199.10,167.80 199.58,167.38 199.60,167.55 199.80,167.56 200.03,167.62 200.10,167.51 200.25,167.72 200.48,167.51 200.60,167.49 200.70,167.46 200.93,167.50 201.10,167.25 201.15,167.48 201.38,167.26 201.60,167.07 201.60,167.05 201.83,166.92 202.05,166.70 202.10,166.61 202.28,166.15 202.50,165.57 202.60,165.09 202.73,164.68 202.95,163.17 203.10,161.78 203.18,161.69 203.40,159.48 203.60,157.43 203.63,157.33 203.85,155.51 204.08,155.31 204.10,155.06 204.30,155.40 204.53,157.45 204.60,157.95 204.75,159.77 204.98,161.31 205.10,162.07 205.20,163.18 205.43,164.42 205.60,165.16 205.65,165.09 205.88,166.15 206.10,166.79 206.10,166.22 206.33,167.01 206.55,166.94 206.60,167.44 206.78,167.25 207.00,167.26 207.10,167.50 207.23,167.46 207.45,167.35 207.60,167.60 207.68,167.42 207.90,167.27 208.10,167.91 208.13,167.54 208.35,167.53 208.58,167.71 208.60,167.41 209.10,167.50 209.60,167.67 210.10,167.70 210.60,167.81 211.10,168.00 211.60,167.75 212.10,167.91 212.60,167.93 213.10,167.66 213.60,167.86 214.10,167.66 214.60,167.95 215.10,167.81 215.60,167.68 216.10,167.38 216.60,167.50 217.10,167.22 217.60,167.28 218.10,166.96 218.60,166.64 219.10,166.71 219.60,166.48 220.10,166.09 220.60,166.22 221.10,165.86 221.60,165.74 221.84,165.75 222.07,165.54 222.10,165.58 222.29,165.56 222.52,165.73 222.60,165.68 222.74,165.31 222.97,165.42 223.07,165.05 223.10,165.08 223.19,165.05 223.19,164.94 223.31,165.11 223.42,164.56 223.42,164.32 223.54,164.46 223.60,164.04 223.64,163.94 223.66,163.46 223.78,163.70 223.87,163.33 223.90,163.18 224.02,162.59 224.09,162.23 224.10,161.90 224.14,161.79 224.25,160.46 224.32,159.82 224.37,159.29 224.49,157.16 224.54,155.83 224.60,154.64 224.61,154.25 224.73,150.18 224.77,148.87 224.85,144.84 224.97,137.57 224.99,136.00 225.09,129.47 225.10,127.84 225.21,119.72 225.22,118.85 225.32,111.68 225.44,107.96 225.44,108.10 225.56,111.15 225.60,113.42 225.67,117.74 225.68,118.62 225.80,128.07 225.89,134.72 225.92,136.31 226.04,142.88 226.10,146.03 226.12,146.70 226.16,148.31 226.27,151.82 226.34,153.75 226.39,154.81 226.51,156.74 226.57,157.76 226.60,158.16 226.63,158.46 226.75,159.88 226.79,160.00 226.87,160.88 226.99,161.87 227.02,162.06 227.10,162.74 227.10,162.40 227.22,163.05 227.24,163.43 227.34,163.97 227.46,164.76 227.47,164.54 227.58,164.73 227.60,165.07 227.69,165.10 227.70,165.02 227.82,166.01 227.92,165.88 228.10,166.30 228.14,166.34 228.37,166.85 228.59,166.83 228.60,166.99 228.82,166.79 229.04,166.87 229.10,167.35 229.27,167.43 229.49,167.37 229.60,167.36 229.72,167.38 229.94,167.31 230.10,167.71 230.17,167.58 230.39,167.60 230.60,167.62 230.62,167.73 230.84,167.68 231.10,167.75 231.60,167.50 232.10,167.81 232.60,168.12 233.10,167.71 233.60,167.80 234.10,167.98 234.60,168.01 235.10,167.97 235.60,167.62 236.10,167.97 236.60,167.71 237.10,167.78 237.60,168.00 238.10,167.87 238.60,168.06 239.10,168.44 239.60,168.06 240.10,168.06 240.60,167.80 241.10,167.84 241.60,167.78 242.10,167.87 242.60,167.78 243.10,167.85 243.60,167.93 244.10,167.80 244.60,167.74 245.10,167.75 245.60,168.04 246.10,167.98 246.60,168.13 247.10,168.14 247.60,167.92 248.10,168.08 248.60,167.74 249.10,168.34 249.60,168.17 250.10,167.94 250.60,167.79 251.10,168.04 251.60,167.68 252.10,167.85 252.60,168.10 253.10,167.99 253.60,167.90 254.10,168.13 254.60,167.81 255.10,168.03 255.60,167.90 256.10,167.85 256.60,168.06 257.10,167.82 257.60,168.29 258.10,167.89 258.60,168.30 259.10,167.81 259.60,168.08 260.10,167.79 260.60,167.77 261.10,168.01 261.60,168.09 262.10,167.78 262.60,168.17 263.10,167.86 263.60,168.01 264.10,168.05 264.60,168.08 265.10,167.70 265.60,168.24 266.10,168.08 266.60,167.92 267.10,167.82 267.60,167.72 268.10,167.77 268.60,168.07 269.10,167.93 269.60,167.81 270.10,167.90 270.60,168.24 271.10,167.93 271.60,167.89 272.10,168.20 272.60,168.06 273.10,167.99 273.60,167.89 274.10,167.74 274.60,167.80 275.10,167.91 275.60,167.95 276.10,168.04 276.60,168.07 277.10,168.02 277.60,168.02 278.10,167.82 278.60,167.64 279.10,167.90 279.60,167.83 280.10,167.88 280.60,167.94 281.10,167.78 281.60,167.81 282.10,167.97 282.60,168.00 283.10,167.88 283.60,168.06 284.10,167.95 284.60,167.82 285.10,167.99 285.60,168.28 286.10,167.87 286.60,168.16 287.10,168.20 287.60,168.22 288.10,167.84 288.60,168.30 289.10,167.99 289.60,167.93 290.10,167.94 290.60,168.07 291.10,167.98 291.60,167.94 292.10,168.17 292.60,167.85 293.10,167.80 293.60,168.09 294.10,168.07 294.60,168.13 295.10,167.78 295.60,168.13 296.10,168.03 296.60,168.23 297.10,167.74 297.60,167.97 298.10,167.89 298.60,167.68 299.10,167.81 299.60,168.10 300.10,167.84 300.60,167.79 301.10,168.03 301.60,168.04 302.10,168.03 302.60,167.73 303.10,167.83 303.60,167.98 304.10,167.69 304.60,167.64 305.10,167.86 305.60,167.93 306.10,167.43 306.60,167.10 307.10,167.14 307.60,167.00 308.10,166.81 308.60,166.46 309.10,165.71 309.60,164.84 310.10,164.12 310.60,163.20 311.10,162.99 311.60,163.12 312.10,164.33 312.60,164.88 313.10,165.42 313.60,166.07 314.10,166.66 314.60,166.83 315.10,167.21 315.60,167.37 316.10,167.73 316.60,167.60 317.10,167.59 317.60,167.54 318.10,167.60 318.60,167.80 319.10,167.80 319.60,168.03 320.10,167.77 320.60,168.05 321.10,167.93 321.60,167.90 322.10,167.59 322.60,167.71 323.10,168.04 323.60,168.15 324.10,167.97 324.60,168.06 325.10,167.88 325.60,167.89 326.10,167.84 326.60,168.11 327.10,168.01 327.60,167.92 328.10,167.91 328.60,168.05 329.10,168.02 329.60,167.83 330.10,168.24 330.60,168.01 331.10,167.97 331.60,168.21 332.10,168.14 332.60,167.96 333.10,168.06 333.60,167.81 334.10,167.88 334.60,167.62 335.10,168.18 335.60,167.68 336.10,168.09 336.60,167.85 337.10,167.83 337.60,167.95 338.10,168.03 338.60,168.08 339.10,168.27 339.60,168.04 340.10,168.13 340.60,167.89 341.10,168.10 341.60,168.01 342.10,167.91 342.60,167.97 343.10,167.98 343.60,168.02 344.10,168.05 344.60,167.91 345.10,167.87 345.60,168.11 346.10,167.72 346.60,167.89 347.10,168.24 347.60,167.56 348.10,167.88" fill="none" stroke="#4e7fbe" stroke-width="1.2" stroke-linejoin="round"/>
<path d="M84.60,203.09 85.10,202.72 85.60,203.40 86.10,202.57 86.60,203.21 87.10,203.23 87.60,203.12 88.10,202.94 88.60,203.03 89.10,202.83 89.60,203.10 90.10,202.79 90.60,202.92 91.10,203.12 91.60,202.78 92.10,202.90 92.60,202.98 93.10,202.74 93.60,203.13 94.10,202.99 94.60,202.69 95.10,202.92 95.60,202.80 96.10,202.81 96.60,202.91 97.10,202.77 97.60,203.02 98.10,202.74 98.60,202.98 99.10,202.79 99.60,202.89 100.10,202.62 100.60,202.55 101.10,202.35 101.60,202.47 101.73,202.48 101.89,202.60 102.04,202.39 102.10,202.19 102.20,202.05 102.36,202.04 102.51,201.84 102.60,201.99 102.67,201.83 102.83,201.35 102.98,201.13 103.10,201.21 103.14,200.95 103.29,200.41 103.45,199.97 103.60,198.78 103.61,198.75 103.76,197.26 103.92,194.90 104.08,192.41 104.10,191.53 104.23,188.41 104.39,183.90 104.54,179.43 104.60,177.76 104.70,175.51 104.86,173.73 105.01,175.50 105.10,177.23 105.17,179.36 105.33,184.07 105.48,188.50 105.60,191.78 105.64,192.36 105.79,195.31 105.95,197.35 106.10,198.72 106.11,198.95 106.26,199.96 106.42,200.24 106.58,201.07 106.60,201.05 106.73,201.39 106.89,201.56 107.04,201.48 107.10,201.56 107.20,202.13 107.36,202.02 107.51,201.86 107.60,202.20 107.67,202.12 107.83,201.97 107.98,201.96 108.10,202.12 108.60,202.57 109.10,202.62 109.60,202.66 110.10,202.80 110.60,202.89 111.10,202.49 111.60,202.80 112.10,202.74 112.60,202.69 113.10,202.81 113.60,202.89 114.10,202.88 114.60,202.69 115.10,202.86 115.60,203.26 116.10,202.78 116.60,202.68 117.10,203.00 117.60,203.05 118.10,203.03 118.60,202.78 119.10,203.12 119.60,202.84 120.10,202.79 120.60,202.87 121.10,202.95 121.60,203.09 122.10,203.07 122.60,202.97 123.10,203.13 123.60,202.99 124.10,203.12 124.60,202.76 125.10,202.73 125.60,203.11 126.10,202.76 126.60,202.94 127.10,202.97 127.60,202.91 128.10,202.91 128.60,203.21 129.10,202.58 129.60,203.13 130.10,203.35 130.60,202.99 131.10,202.98 131.60,203.10 132.10,203.28 132.60,202.80 133.10,203.00 133.60,202.96 134.10,203.08 134.60,203.02 135.10,203.10 135.60,202.92 136.10,203.00 136.60,202.88 137.10,202.88 137.60,202.97 138.10,202.97 138.60,202.80 139.10,203.24 139.60,202.97 140.10,202.77 140.60,203.17 141.10,202.87 141.60,203.07 142.10,202.99 142.60,203.03 143.10,203.02 143.60,202.90 144.10,203.00 144.60,203.32 145.10,202.63 145.60,203.00 146.10,203.06 146.60,202.82 147.10,202.77 147.60,203.34 148.10,202.93 148.60,203.33 149.10,203.08 149.60,203.00 150.10,203.07 150.60,203.09 151.10,203.18 151.60,203.06 152.10,203.02 152.60,203.02 153.10,203.21 153.60,203.12 154.10,202.83 154.60,202.89 155.10,203.05 155.60,202.89 156.10,202.93 156.60,202.84 157.10,202.95 157.60,203.06 158.10,203.15 158.60,202.99 159.10,203.32 159.60,202.98 160.10,203.50 160.60,203.15 161.10,203.07 161.60,202.91 162.10,202.54 162.60,202.97 163.10,203.02 163.60,203.30 164.10,202.77 164.60,203.30 165.10,202.95 165.60,203.11 166.10,202.58 166.60,203.01 167.10,202.94 167.60,203.10 168.10,203.01 168.60,202.81 169.10,203.14 169.60,203.10 170.10,203.09 170.60,203.15 171.10,203.17 171.60,202.99 172.10,202.77 172.60,202.77 173.10,203.21 173.60,203.10 174.10,203.01 174.60,202.92 175.10,202.99 175.60,202.99 176.10,202.93 176.60,202.88 177.10,203.33 177.60,203.02 178.10,202.89 178.60,202.78 179.10,202.87 179.60,203.10 180.10,203.11 180.60,202.95 181.10,202.99 181.60,202.94 182.10,202.81 182.60,203.19 183.10,203.04 183.60,203.38 184.10,202.86 184.60,202.96 185.10,203.12 185.60,202.94 186.10,202.76 186.60,202.83 187.10,202.99 187.60,203.03 188.10,202.96 188.60,203.14 189.10,203.13 189.60,203.02 190.10,202.98 190.60,202.93 191.10,203.06 191.60,203.11 192.10,202.98 192.60,203.04 193.10,202.91 193.60,202.73 194.10,202.80 194.60,203.08 195.10,203.02 195.60,203.20 196.10,202.95 196.60,203.08 197.10,203.15 197.60,203.09 198.10,202.83 198.60,202.89 199.10,202.93 199.60,202.74 200.10,202.96 200.60,203.03 201.10,202.77 201.60,203.14 202.10,202.75 202.60,202.73 203.01,202.68 203.10,202.60 203.23,202.76 203.46,202.67 203.60,202.91 203.68,202.72 203.91,202.67 204.10,202.51 204.13,202.31 204.36,202.46 204.58,202.26 204.60,202.54 204.81,202.30 205.03,202.44 205.10,202.25 205.26,202.14 205.48,201.79 205.60,201.60 205.71,201.48 205.93,200.96 206.10,200.13 206.16,200.09 206.38,199.32 206.60,197.50 206.61,197.43 206.83,195.65 207.06,193.75 207.10,193.86 207.28,192.55 207.51,192.01 207.60,192.36 207.73,192.93 207.96,193.83 208.10,195.26 208.18,195.85 208.41,197.52 208.60,198.78 208.63,198.88 208.86,200.25 209.08,200.90 209.10,200.91 209.31,201.56 209.53,201.87 209.60,201.89 209.76,202.03 209.98,202.43 210.10,202.30 210.21,202.26 210.43,202.23 210.60,202.37 210.66,202.28 210.88,202.52 211.10,202.59 211.11,202.22 211.33,202.59 211.56,202.73 211.60,202.66 211.78,202.50 212.01,202.88 212.10,202.57 212.60,202.52 213.10,202.57 213.60,202.74 214.10,202.90 214.60,202.91 215.10,202.72 215.60,202.44 216.10,202.44 216.42,202.33 216.60,202.40 216.60,202.14 216.79,202.39 216.98,202.42 217.10,202.26 217.17,202.33 217.35,202.04 217.54,201.89 217.60,202.00 217.73,202.23 217.92,202.13 218.10,201.81 218.10,202.08 218.29,201.74 218.48,201.93 218.60,201.70 218.67,201.51 218.85,201.58 219.04,201.17 219.10,201.10 219.23,200.89 219.42,200.95 219.60,200.68 219.60,200.67 219.79,200.39 219.98,200.49 220.10,200.10 220.17,200.02 220.35,200.33 220.54,200.44 220.60,200.30 220.73,200.04 220.92,200.33 221.10,200.61 221.10,200.51 221.29,200.81 221.48,200.38 221.60,200.71 221.67,200.50 221.84,200.80 221.85,200.57 222.04,200.72 222.07,200.44 222.10,200.31 222.23,200.33 222.29,200.39 222.42,200.27 222.52,200.58 222.60,200.56 222.60,200.39 222.74,200.09 222.79,200.20 222.94,199.98 222.97,200.30 222.98,200.11 223.07,200.04 223.10,199.86 223.17,199.52 223.19,199.68 223.19,199.63 223.32,199.67 223.35,199.56 223.42,199.30 223.44,199.32 223.54,199.40 223.57,198.94 223.60,198.86 223.64,198.85 223.69,198.62 223.73,198.54 223.82,198.37 223.87,198.36 223.92,197.56 223.94,197.71 224.07,196.99 224.09,196.80 224.10,196.72 224.19,195.94 224.32,194.82 224.32,194.58 224.44,192.76 224.54,190.76 224.57,190.15 224.60,189.28 224.69,186.61 224.77,183.65 224.82,181.45 224.94,174.82 224.99,171.65 225.07,166.60 225.10,164.31 225.19,157.92 225.22,156.13 225.32,150.17 225.44,147.18 225.44,147.23 225.57,149.64 225.60,151.72 225.67,155.36 225.69,157.02 225.82,165.63 225.89,170.20 225.94,173.09 226.07,179.83 226.10,180.68 226.12,181.52 226.19,184.44 226.32,187.72 226.34,188.45 226.44,190.61 226.57,192.91 226.57,192.40 226.60,192.96 226.69,194.19 226.79,195.11 226.82,195.14 226.94,196.44 227.02,196.93 227.07,197.34 227.10,197.65 227.19,198.19 227.24,198.37 227.32,198.75 227.44,199.10 227.47,199.35 227.57,199.80 227.60,199.81 227.69,200.19 227.69,200.05 227.82,200.78 227.92,201.12 227.94,200.77 228.10,201.20 228.14,201.17 228.37,201.72 228.59,201.82 228.60,201.77 228.82,201.89 229.04,202.08 229.10,201.93 229.27,202.28 229.49,202.15 229.60,202.38 229.72,202.36 229.94,202.58 230.10,202.44 230.17,202.62 230.39,202.36 230.60,202.64 230.62,202.51 230.84,202.61 231.10,202.63 231.60,202.83 232.10,202.40 232.60,202.81 233.10,202.55 233.60,203.01 234.10,202.52 234.60,202.69 235.10,202.60 235.60,203.14 236.10,202.68 236.60,202.92 237.10,202.82 237.60,202.62 238.10,202.87 238.60,203.03 239.10,202.90 239.60,203.08 240.10,202.88 240.60,202.94 241.10,202.88 241.60,203.00 242.10,203.26 242.60,203.01 243.10,202.99 243.60,202.86 244.10,202.84 244.60,203.20 245.10,202.79 245.60,202.82 246.10,202.95 246.60,202.90 247.10,203.28 247.60,202.59 248.10,203.03 248.60,203.09 249.10,202.79 249.60,202.87 250.10,203.04 250.60,203.24 251.10,202.83 251.60,202.73 252.10,203.13 252.60,203.22 253.10,202.93 253.60,202.63 254.10,203.21 254.60,202.95 255.10,203.16 255.60,202.98 256.10,202.92 256.60,202.91 257.10,203.22 257.60,203.21 258.10,202.64 258.60,202.83 259.10,203.27 259.60,202.93 260.10,202.77 260.60,202.99 261.10,202.97 261.60,202.97 262.10,202.91 262.60,202.94 263.10,202.91 263.60,203.04 264.10,202.86 264.60,202.94 265.10,202.96 265.60,203.20 266.10,203.05 266.60,202.97 267.10,203.07 267.60,203.05 268.10,203.16 268.60,203.07 269.10,203.28 269.60,203.20 270.10,202.98 270.60,202.92 271.10,203.13 271.60,203.07 272.10,202.97 272.60,202.75 273.10,202.70 273.60,203.04 274.10,203.11 274.60,203.12 275.10,202.78 275.60,203.16 276.10,202.90 276.60,203.05 277.10,203.06 277.60,202.86 278.10,202.89 278.60,202.66 279.10,202.84 279.60,202.70 280.10,203.06 280.60,203.00 281.10,203.14 281.60,203.05 282.10,202.89 282.60,203.04 283.10,202.93 283.60,203.09 284.10,203.04 284.60,202.83 285.10,202.99 285.60,203.00 286.10,202.94 286.60,203.13 287.10,203.26 287.60,202.93 288.10,202.93 288.60,202.63 289.10,202.97 289.60,202.92 290.10,202.64 290.60,203.03 291.10,203.08 291.60,202.87 292.10,202.92 292.60,202.83 293.10,203.10 293.60,202.74 294.10,202.93 294.60,203.29 295.10,202.99 295.60,203.05 296.10,202.96 296.60,202.79 297.10,202.97 297.60,203.04 298.10,202.81 298.60,203.03 299.10,203.17 299.60,203.14 300.10,202.72 300.60,202.81 301.10,202.71 301.60,203.13 302.10,203.06 302.60,203.07 303.10,202.82 303.60,202.77 304.10,202.96 304.60,202.96 305.10,202.80 305.60,202.96 306.10,203.03 306.60,202.96 307.10,202.75 307.60,202.57 308.10,202.85 308.60,202.91 309.10,202.82 309.60,202.78 310.10,202.71 310.60,202.91 311.10,202.75 311.60,202.73 312.10,202.50 312.60,202.47 313.10,202.48 313.60,202.10 314.10,201.71 314.60,201.19 315.10,200.20 315.60,198.08 316.10,195.88 316.60,194.03 317.10,194.76 317.60,196.88 318.10,199.22 318.60,201.05 319.10,201.75 319.60,202.26 320.10,202.50 320.60,202.53 321.10,202.59 321.60,202.71 322.10,202.85 322.60,202.86 323.10,202.89 323.60,202.86 324.10,202.74 324.60,202.83 325.10,202.74 325.60,203.06 326.10,202.58 326.60,202.89 327.10,203.31 327.60,202.88 328.10,202.76 328.60,202.94 329.10,203.15 329.60,202.93 330.10,203.05 330.60,202.97 331.10,202.90 331.60,203.47 332.10,202.98 332.60,202.88 333.10,202.89 333.60,203.03 334.10,203.04 334.60,203.10 335.10,203.00 335.60,202.75 336.10,203.06 336.60,202.93 337.10,202.93 337.60,202.74 338.10,202.89 338.60,202.87 339.10,202.98 339.60,202.75 340.10,202.99 340.60,203.00 341.10,202.81 341.60,202.89 342.10,202.85 342.60,203.13 343.10,202.58 343.60,202.93 344.10,202.72 344.60,202.92 345.10,203.12 345.60,202.89 346.10,203.01 346.60,202.85 347.10,203.30 347.60,203.14 348.10,203.17" fill="none" stroke="#ee2229" stroke-width="1.2" stroke-linejoin="round"/>
</g>
<line x1="102.95" y1="33.2" x2="102.95" y2="217" stroke="#b07ef0" stroke-width="1.4" stroke-dasharray="1.3 2.95"/>
<line x1="203.7" y1="27" x2="203.7" y2="214" stroke="#b07ef0" stroke-width="1.4" stroke-dasharray="1.3 2.95"/>
<line x1="310.9" y1="41" x2="310.9" y2="219.5" stroke="#b07ef0" stroke-width="1.4" stroke-dasharray="1.3 2.95"/>
<line x1="105.2" y1="47.5" x2="105.2" y2="219" stroke="#f8a04c" stroke-width="1.35" stroke-dasharray="3.5 3.7"/>
<line x1="207.5" y1="45.5" x2="207.5" y2="214" stroke="#f8a04c" stroke-width="1.35" stroke-dasharray="3.5 3.7"/>
<line x1="316.6" y1="49.5" x2="316.6" y2="219.5" stroke="#f8a04c" stroke-width="1.35" stroke-dasharray="3.5 3.7"/>
<line x1="50.1" y1="5.9" x2="50.1" y2="123.4" stroke="#858585" stroke-width="1.6" stroke-dasharray="2.6 2.37"/>
<g clip-path="url(#cl)">
<path d="M23.60,39.20 24.10,39.27 24.60,39.92 25.10,39.53 25.60,39.49 26.10,39.64 26.60,39.13 27.10,39.71 27.60,39.44 28.10,39.53 28.60,39.13 29.10,39.43 29.60,39.01 30.10,39.44 30.60,39.42 31.10,39.28 31.60,39.09 32.10,39.04 32.60,37.96 33.10,38.93 33.60,38.47 34.10,38.40 34.60,38.08 35.10,37.53 35.60,37.58 36.10,37.76 36.60,37.84 37.10,37.10 37.60,36.89 38.10,37.47 38.60,36.63 39.10,37.37 39.60,36.58 40.10,36.09 40.60,36.39 41.10,36.28 41.60,34.98 42.10,35.45 42.60,34.43 43.10,34.44 43.60,33.32 44.10,32.34 44.60,32.19 45.10,31.40 45.60,30.71 46.10,29.45 46.60,27.86 47.10,25.84 47.60,23.81 48.10,22.12 48.60,20.71 49.10,19.90 49.60,18.39 50.10,18.49 50.60,17.72 51.10,17.87 51.60,17.13 52.10,16.95 52.60,17.62 53.10,17.51 53.60,18.33 54.10,18.69 54.60,20.43 55.10,21.00 55.60,21.45 56.10,23.10 56.60,25.03 57.10,26.53 57.60,27.86 58.10,28.70 58.60,29.92 59.10,31.20 59.60,32.36 60.10,32.55 60.60,33.04 61.10,34.22 61.60,34.04 62.10,35.04 62.60,35.15 63.10,35.67 63.60,36.25 64.10,36.21 64.60,36.50 65.10,36.23 65.60,36.52 66.10,37.14 66.60,37.60 67.10,37.75 67.60,38.20 68.10,37.78 68.60,37.93 69.10,38.35 69.60,38.22 70.10,38.36 70.60,38.22 71.10,38.97 71.60,38.48 72.10,39.08 72.60,38.61 73.10,39.44 73.60,38.87 74.10,39.50 74.60,38.83 75.10,39.23 75.60,39.77 76.10,39.23 76.60,39.54 77.10,39.42 77.60,38.91 78.10,39.74 78.60,39.82 79.10,39.39 79.60,39.93 80.10,39.56 80.60,39.53 81.10,39.87 81.60,39.70 82.10,40.62 82.60,39.51 83.10,40.23 83.60,40.34 84.10,39.48" fill="none" stroke="#3ac474" stroke-width="1.0" stroke-linejoin="round"/>
<path d="M23.60,79.48 24.10,80.17 24.60,79.85 25.10,80.09 25.60,80.30 26.10,79.81 26.60,79.57 27.10,79.03 27.60,79.86 28.10,79.46 28.60,79.78 29.10,79.69 29.60,79.14 30.10,80.01 30.60,79.75 31.10,79.61 31.60,78.93 32.10,79.10 32.60,78.99 33.10,78.96 33.60,78.68 34.10,79.08 34.60,78.94 35.10,78.89 35.60,78.53 36.10,78.96 36.60,78.51 37.10,77.50 37.60,77.98 38.10,77.98 38.60,78.10 39.10,77.51 39.60,77.28 40.10,76.89 40.60,76.95 41.10,76.21 41.60,75.68 42.10,75.07 42.60,74.80 43.10,73.70 43.60,72.22 44.10,71.44 44.60,69.35 45.10,67.86 45.60,66.06 46.10,64.54 46.60,62.42 47.10,59.85 47.60,58.31 48.10,56.94 48.60,57.05 49.10,56.44 49.60,56.84 50.10,56.63 50.60,56.84 51.10,58.76 51.60,58.98 52.10,59.59 52.60,60.87 53.10,63.37 53.60,65.44 54.10,66.73 54.60,68.85 55.10,69.44 55.60,70.31 56.10,71.59 56.60,71.80 57.10,71.96 57.60,72.47 58.10,74.20 58.60,74.91 59.10,75.17 59.60,75.18 60.10,75.62 60.60,75.76 61.10,76.44 61.60,76.84 62.10,77.11 62.60,76.77 63.10,77.25 63.60,77.52 64.10,77.37 64.60,77.64 65.10,78.47 65.60,78.05 66.10,78.39 66.60,78.15 67.10,78.44 67.60,78.06 68.10,78.71 68.60,79.22 69.10,79.62 69.60,79.47 70.10,79.43 70.60,79.33 71.10,79.21 71.60,79.40 72.10,79.68 72.60,79.30 73.10,79.85 73.60,79.31 74.10,79.11 74.60,79.37 75.10,79.21 75.60,79.33 76.10,80.12 76.60,79.75 77.10,79.91 77.60,80.22 78.10,80.28 78.60,79.78 79.10,80.36 79.60,80.11 80.10,80.03 80.60,80.19 81.10,79.66 81.60,79.88 82.10,80.11 82.60,80.36 83.10,80.09 83.60,80.20 84.10,80.56" fill="none" stroke="#5656a6" stroke-width="1.0" stroke-linejoin="round"/>
<path d="M23.60,120.92 24.10,120.73 24.60,120.87 25.10,120.36 25.60,120.36 26.10,120.52 26.60,120.29 27.10,120.18 27.60,120.78 28.10,120.17 28.60,119.88 29.10,120.25 29.60,120.59 30.10,120.00 30.60,120.28 31.10,119.71 31.60,119.63 32.10,119.50 32.60,119.60 33.10,120.14 33.60,119.19 34.10,119.97 34.60,119.12 35.10,119.28 35.60,119.52 36.10,119.37 36.60,119.14 37.10,118.40 37.60,118.81 38.10,118.19 38.60,119.03 39.10,117.95 39.60,117.81 40.10,117.15 40.60,117.07 41.10,116.52 41.60,116.88 42.10,116.15 42.60,116.01 43.10,115.23 43.60,114.84 44.10,114.89 44.60,113.66 45.10,112.80 45.60,112.78 46.10,111.58 46.60,111.01 47.10,110.57 47.60,109.12 48.10,108.58 48.60,106.96 49.10,106.38 49.60,105.06 50.10,102.99 50.60,101.37 51.10,100.26 51.60,100.23 52.10,100.30 52.60,99.24 53.10,99.35 53.60,97.76 54.10,97.22 54.60,97.02 55.10,98.93 55.60,99.22 56.10,100.19 56.60,100.96 57.10,102.58 57.60,102.67 58.10,104.35 58.60,106.06 59.10,106.32 59.60,107.42 60.10,108.50 60.60,108.86 61.10,109.88 61.60,110.89 62.10,111.35 62.60,112.05 63.10,112.45 63.60,113.22 64.10,113.71 64.60,114.68 65.10,114.98 65.60,115.17 66.10,114.94 66.60,116.25 67.10,116.57 67.60,116.35 68.10,116.30 68.60,116.80 69.10,117.65 69.60,117.26 70.10,117.63 70.60,118.00 71.10,118.44 71.60,118.19 72.10,118.28 72.60,118.24 73.10,118.98 73.60,118.90 74.10,118.63 74.60,118.32 75.10,118.58 75.60,119.08 76.10,118.77 76.60,119.34 77.10,119.27 77.60,119.34 78.10,119.53 78.60,119.57 79.10,119.25 79.60,119.48 80.10,120.36 80.60,119.37 81.10,119.66 81.60,120.18 82.10,119.87 82.60,119.72 83.10,119.61 83.60,120.20 84.10,120.38" fill="none" stroke="#f7bd1c" stroke-width="1.0" stroke-linejoin="round"/>
<path d="M23.60,161.82 24.10,161.42 24.60,161.71 25.10,161.08 25.60,161.43 26.10,161.17 26.60,161.41 27.10,161.56 27.60,161.64 28.10,161.00 28.60,161.65 29.10,161.10 29.60,160.91 30.10,161.14 30.60,160.72 31.10,161.13 31.60,161.18 32.10,161.00 32.60,161.18 33.10,160.89 33.60,160.95 34.10,160.48 34.60,160.89 35.10,160.58 35.60,160.66 36.10,160.71 36.60,160.75 37.10,160.14 37.60,160.10 38.10,160.42 38.60,160.58 39.10,160.48 39.60,160.56 40.10,160.60 40.60,160.28 41.10,160.04 41.60,159.64 42.10,159.57 42.60,159.62 43.10,159.74 43.60,159.60 44.10,159.40 44.60,159.20 45.10,159.26 45.60,158.96 46.10,158.80 46.60,158.62 47.10,158.17 47.60,157.84 48.10,158.11 48.60,157.92 49.10,157.56 49.60,157.34 50.10,157.98 50.60,156.89 51.10,156.85 51.60,156.76 52.10,156.07 52.60,156.09 53.10,155.99 53.60,154.99 54.10,154.17 54.60,153.57 55.10,153.14 55.60,153.40 56.10,153.12 56.60,153.12 57.10,153.39 57.60,153.76 58.10,153.74 58.60,154.04 59.10,153.62 59.60,155.12 60.10,156.07 60.60,156.40 61.10,156.47 61.60,156.77 62.10,157.45 62.60,157.40 63.10,158.23 63.60,158.16 64.10,158.89 64.60,159.27 65.10,158.48 65.60,159.39 66.10,159.27 66.60,159.21 67.10,159.56 67.60,159.77 68.10,160.24 68.60,159.55 69.10,160.40 69.60,160.76 70.10,160.39 70.60,160.44 71.10,160.32 71.60,160.03 72.10,160.59 72.60,160.60 73.10,160.76 73.60,161.36 74.10,160.86 74.60,160.83 75.10,161.23 75.60,160.42 76.10,160.55 76.60,160.84 77.10,160.82 77.60,161.28 78.10,161.03 78.60,161.70 79.10,161.69 79.60,161.51 80.10,161.20 80.60,161.53 81.10,161.62 81.60,161.07 82.10,161.50 82.60,161.61 83.10,161.46 83.60,161.87 84.10,161.76" fill="none" stroke="#4e7fbe" stroke-width="1.0" stroke-linejoin="round"/>
<path d="M23.60,201.25 24.10,201.54 24.60,201.25 25.10,201.67 25.60,201.24 26.10,201.78 26.60,201.62 27.10,201.79 27.60,201.46 28.10,201.06 28.60,202.03 29.10,201.45 29.60,201.91 30.10,201.63 30.60,201.70 31.10,202.05 31.60,201.60 32.10,201.92 32.60,201.05 33.10,201.76 33.60,201.43 34.10,201.45 34.60,201.49 35.10,201.58 35.60,201.96 36.10,200.89 36.60,201.44 37.10,201.19 37.60,201.74 38.10,201.24 38.60,201.47 39.10,201.19 39.60,201.48 40.10,201.56 40.60,201.10 41.10,201.21 41.60,200.73 42.10,201.22 42.60,201.35 43.10,200.89 43.60,201.36 44.10,200.37 44.60,200.40 45.10,200.50 45.60,200.72 46.10,200.82 46.60,200.74 47.10,200.69 47.60,200.87 48.10,200.44 48.60,200.14 49.10,200.08 49.60,201.02 50.10,199.61 50.60,200.19 51.10,200.60 51.60,200.22 52.10,199.73 52.60,199.88 53.10,200.04 53.60,200.05 54.10,199.32 54.60,199.72 55.10,199.45 55.60,199.58 56.10,199.52 56.60,198.82 57.10,198.25 57.60,198.51 58.10,198.56 58.60,197.81 59.10,197.20 59.60,197.30 60.10,195.56 60.60,195.22 61.10,193.68 61.60,192.61 62.10,191.23 62.60,190.15 63.10,187.52 63.60,185.23 64.10,182.29 64.60,180.39 65.10,177.87 65.60,175.73 66.10,173.26 66.60,172.63 67.10,172.81 67.60,172.35 68.10,173.44 68.60,175.22 69.10,176.91 69.60,179.05 70.10,182.53 70.60,184.73 71.10,187.00 71.60,188.07 72.10,190.02 72.60,191.53 73.10,193.29 73.60,194.89 74.10,195.58 74.60,196.13 75.10,196.82 75.60,197.56 76.10,197.72 76.60,198.32 77.10,198.57 77.60,198.14 78.10,198.91 78.60,199.65 79.10,199.33 79.60,199.60 80.10,199.63 80.60,199.82 81.10,200.42 81.60,200.09 82.10,199.95 82.60,199.40 83.10,200.23 83.60,199.86 84.10,199.94" fill="none" stroke="#ee2229" stroke-width="1.0" stroke-linejoin="round"/>
</g>
<rect x="23.6" y="1.6" width="60.8" height="210.4" fill="none" stroke="#2a2a2a" stroke-width="1.1"/>
<rect x="84.5" y="1.6" width="264" height="210.4" fill="none" stroke="#2a2a2a" stroke-width="1.1"/>
<line x1="84.60" y1="209.8" x2="84.60" y2="212" stroke="#333" stroke-width="1"/>
<line x1="110.97" y1="208.4" x2="110.97" y2="212" stroke="#333" stroke-width="1"/>
<line x1="137.35" y1="209.8" x2="137.35" y2="212" stroke="#333" stroke-width="1"/>
<line x1="163.72" y1="208.4" x2="163.72" y2="212" stroke="#333" stroke-width="1"/>
<line x1="190.10" y1="209.8" x2="190.10" y2="212" stroke="#333" stroke-width="1"/>
<line x1="216.47" y1="208.4" x2="216.47" y2="212" stroke="#333" stroke-width="1"/>
<line x1="242.85" y1="209.8" x2="242.85" y2="212" stroke="#333" stroke-width="1"/>
<line x1="269.23" y1="208.4" x2="269.23" y2="212" stroke="#333" stroke-width="1"/>
<line x1="295.60" y1="209.8" x2="295.60" y2="212" stroke="#333" stroke-width="1"/>
<line x1="321.98" y1="208.4" x2="321.98" y2="212" stroke="#333" stroke-width="1"/>
<line x1="348.35" y1="209.8" x2="348.35" y2="212" stroke="#333" stroke-width="1"/>
<line x1="31.60" y1="208.4" x2="31.60" y2="212" stroke="#333" stroke-width="1"/>
<line x1="41.80" y1="209.8" x2="41.80" y2="212" stroke="#333" stroke-width="1"/>
<line x1="52.00" y1="208.4" x2="52.00" y2="212" stroke="#333" stroke-width="1"/>
<line x1="62.20" y1="209.8" x2="62.20" y2="212" stroke="#333" stroke-width="1"/>
<line x1="72.40" y1="208.4" x2="72.40" y2="212" stroke="#333" stroke-width="1"/>
<line x1="82.60" y1="209.8" x2="82.60" y2="212" stroke="#333" stroke-width="1"/>
<text x="110.97" y="224" text-anchor="middle" class="tk">20</text>
<text x="163.72" y="224" text-anchor="middle" class="tk">30</text>
<text x="216.47" y="224" text-anchor="middle" class="tk">40</text>
<text x="269.23" y="224" text-anchor="middle" class="tk">50</text>
<text x="321.98" y="224" text-anchor="middle" class="tk">60</text>
<text x="31.60" y="224" text-anchor="middle" class="tk">18.0</text>
<text x="52.00" y="224" text-anchor="middle" class="tk">18.5</text>
<text x="72.40" y="224" text-anchor="middle" class="tk">19.0</text>
<text x="26" y="11.9" font-size="9.3" stroke="#111" stroke-width="0.25">(b)</text>
<text x="86.9" y="11.3" font-size="9.3" stroke="#111" stroke-width="0.25">(a)</text>
<text x="107" y="14.9" font-size="11" class="b">(Ga<tspan font-size="7" dy="2.6">1-<tspan font-style="italic">x</tspan></tspan><tspan dy="-2.6">Mn</tspan><tspan font-size="7" dy="2.6" font-style="italic">x</tspan><tspan dy="-2.6">)</tspan><tspan font-size="7" dy="2.6">2</tspan><tspan dy="-2.6">O</tspan><tspan font-size="7" dy="2.6">3</tspan><tspan dy="-2.6"> thin films</tspan></text>
<line x1="250.1" y1="12.3" x2="281.5" y2="12.3" stroke="#b07ef0" stroke-width="1.6" stroke-dasharray="1.4 2.86"/>
<line x1="250" y1="28.3" x2="282.3" y2="28.3" stroke="#f8a04c" stroke-width="1.5" stroke-dasharray="3.6 3.54"/>
<text x="285.3" y="15" font-size="11" class="b" font-style="italic">γ</text>
<text x="290" y="15" font-size="11" class="b" textLength="23.6" lengthAdjust="spacing">(111)</text>
<text x="316.4" y="15" font-size="11" class="b">planes</text>
<text x="283.9" y="31.4" font-size="11" class="b" font-style="italic">β</text>
<text x="290" y="31.4" font-size="11" class="b" textLength="23.6" lengthAdjust="spacing">(201)</text>
<text x="316.4" y="31.4" font-size="11" class="b">planes</text>
<line x1="292.3" y1="22.7" x2="297" y2="22.7" stroke="#111" stroke-width="1"/>
<text x="132.6" y="58.7" font-size="11" class="b"><tspan font-style="italic">x</tspan> = 0.08</text>
<text x="132.3" y="93.9" font-size="11" class="b"><tspan font-style="italic">x</tspan> = 0.06</text>
<text x="132.3" y="128.5" font-size="11" class="b"><tspan font-style="italic">x</tspan> = 0.04</text>
<text x="132.3" y="163.9" font-size="11" class="b"><tspan font-style="italic">x</tspan> = 0.02</text>
<text x="138.7" y="198.9" font-size="11" class="b">pure</text>
<text x="192.2" y="241.4" font-size="12.8" class="b" text-anchor="middle">2theta (degree)</text>
<text transform="translate(10.0,101.1) rotate(-90)" font-size="13" class="b" text-anchor="middle" textLength="110.5" lengthAdjust="spacing">XRD Intensity (a.u.)</text>
</svg>
</body></html>
